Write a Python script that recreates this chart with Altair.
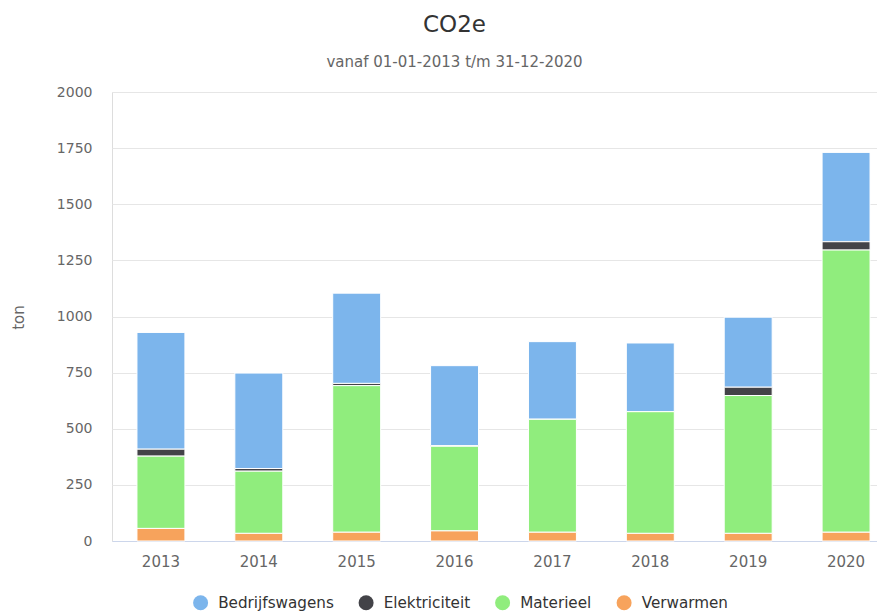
import altair as alt
import pandas as pd

years = ["2013", "2014", "2015", "2016", "2017", "2018", "2019", "2020"]
series = ["Bedrijfswagens", "Elektriciteit", "Materieel", "Verwarmen"]
colors = ["#7cb5ec", "#434348", "#90ed7d", "#f7a35c"]

bedrijfswagens = [520, 425, 402, 356, 346, 306, 312, 398]
elektriciteit = [31, 12, 10, 3, 0, 0, 37, 37]
materieel = [322, 277, 653, 377, 503, 542, 614, 1257]
verwarmen = [56, 34, 39, 45, 39, 34, 34, 39]

y_ticks = [0, 250, 500, 750, 1000, 1250, 1500, 1750, 2000]

values = {
    "Bedrijfswagens": bedrijfswagens,
    "Elektriciteit": elektriciteit,
    "Materieel": materieel,
    "Verwarmen": verwarmen,
}
stack_rank = {"Verwarmen": 0, "Materieel": 1, "Elektriciteit": 2, "Bedrijfswagens": 3}

rows = []
for s in series:
    for yr, v in zip(years, values[s]):
        rows.append({"jaar": yr, "bron": s, "ton": v, "rank": stack_rank[s]})
df = pd.DataFrame(rows)

FONT = "DejaVu Sans"

chart = (
    alt.Chart(df)
    .mark_bar(stroke="white", strokeWidth=1)
    .encode(
        x=alt.X(
            "jaar:N",
            title=None,
            sort=years,
            scale=alt.Scale(range=[0, 783], paddingInner=0.51, paddingOuter=0.255),
            axis=alt.Axis(
                labelAngle=0,
                labelColor="#666666",
                labelFontSize=15,
                labelFont=FONT,
                labelPadding=13,
                ticks=False,
                domain=True,
                domainColor="#ccd6eb",
                domainWidth=1,
                grid=False,
            ),
        ),
        y=alt.Y(
            "ton:Q",
            stack="zero",
            scale=alt.Scale(domain=[0, 2000], nice=False),
            axis=alt.Axis(
                values=y_ticks,
                format="d",
                title="ton",
                titleColor="#666666",
                titleFontSize=15,
                titleFont=FONT,
                titleFontWeight="normal",
                titleX=-94,
                titleY=225,
                titleAngle=270,
                titleAlign="center",
                titleBaseline="middle",
                labelColor="#666666",
                labelFontSize=14,
                labelFont=FONT,
                labelPadding=20,
                ticks=False,
                domain=False,
                grid=True,
                gridColor="#e6e6e6",
                gridWidth=1,
            ),
        ),
        color=alt.Color(
            "bron:N",
            scale=alt.Scale(domain=series, range=colors),
            legend=alt.Legend(
                title=None,
                orient="none",
                direction="horizontal",
                legendX=81,
                legendY=503,
                symbolType="circle",
                symbolSize=225,
                symbolStrokeWidth=0,
                symbolOpacity=1,
                labelFontSize=15.2,
                labelFont=FONT,
                labelColor="#333333",
                labelOffset=10,
                columnPadding=24.5,
            ),
        ),
        order=alt.Order("rank:Q", sort="ascending"),
    )
    .properties(
        width=765,
        height=449,
        autosize=alt.AutoSizeParams(type="none"),
        padding={"left": 104, "top": 84, "right": 0, "bottom": 70},
        title=alt.TitleParams(
            text="CO2e",
            subtitle="vanaf 01-01-2013 t/m 31-12-2020",
            anchor="middle",
            dx=-40,
            font=FONT,
            fontSize=23,
            fontWeight="normal",
            color="#333333",
            subtitleFont=FONT,
            subtitleFontSize=15,
            subtitleColor="#666666",
            subtitlePadding=18,
            offset=15,
        ),
    )
    .configure_view(strokeWidth=0, strokeOpacity=0, stroke="transparent")
    .configure_axisX(grid=False, gridOpacity=0, tickOpacity=0)
    .configure_axisY(domainOpacity=0, tickOpacity=0)
    .configure(background="white")
)

chart.save("out.html", embed_options={"renderer": "svg", "actions": False})
